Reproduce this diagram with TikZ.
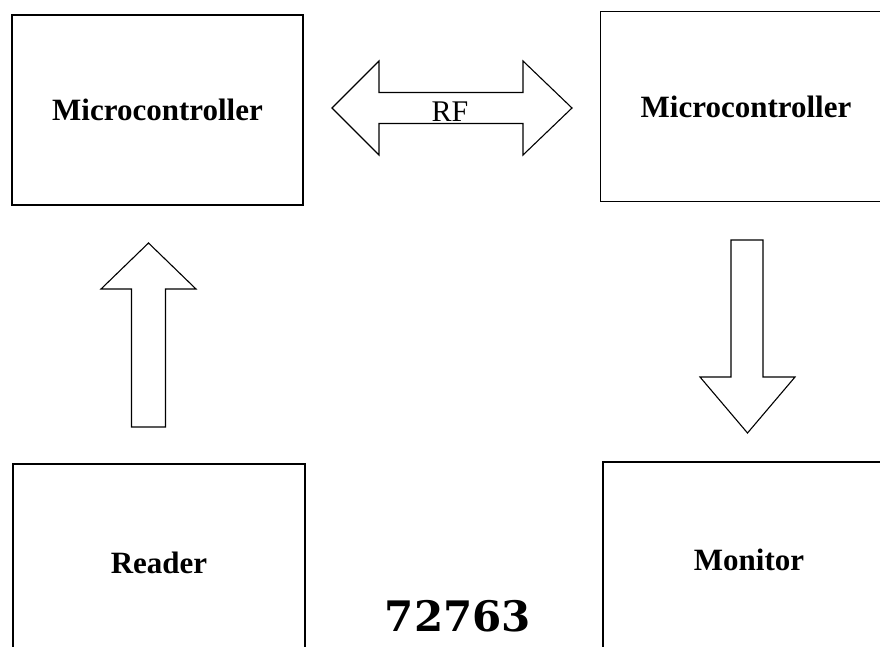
\documentclass[tikz,border=0pt]{standalone}
\usepackage{fontspec}
\setmainfont{Liberation Serif}
\newfontfamily\stampfont{DejaVu Serif}
\usepackage{tikz}
\usetikzlibrary{positioning}

\tikzset{
    block/.style={draw, line width=1.2pt, minimum width=291pt, minimum height=190pt,
        inner sep=0pt, font=\fontsize{31}{37}\selectfont\bfseries},
    blockarrow/.style={draw, line width=1.1pt, line join=miter}
}

\begin{document}
\begin{tikzpicture}[x=1pt, y=-1pt]
    % 0. Page size (same as the scan)
    \useasboundingbox (0,0) rectangle (880,646);
    \clip (0,0) rectangle (880,646);

    % 1. The four blocks (the right and bottom ones run off the page)
    \node[block] (mcuA) at (157.5,110) {Microcontroller};
    \node[block] (mcuB) at (746,106.5) {Microcontroller};
    \node[block, minimum width=292pt, minimum height=198pt] (reader) at (159,563) {Reader};
    \node[block, minimum width=292pt, minimum height=196pt] (monitor) at (749,560) {Monitor};

    % 2. RF link between the two microcontrollers (double block arrow)
    \draw[blockarrow] (332,108) -- (379,61) -- (379,92.5) -- (523,92.5) -- (523,61)
        -- (572,108) -- (523,155) -- (523,123.5) -- (379,123.5) -- (379,155) -- cycle;
    \node[font=\fontsize{30}{34}\selectfont, inner sep=0pt] (rf) at (450,112) {RF};

    % 3. Reader -> Microcontroller (up arrow)
    \draw[blockarrow] (148.5,243) -- (196,289) -- (165.5,289) -- (165.5,427)
        -- (131.5,427) -- (131.5,289) -- (101,289) -- cycle;

    % 4. Microcontroller -> Monitor (down arrow)
    \draw[blockarrow] (731,240) -- (763,240) -- (763,377) -- (795,377)
        -- (747.5,433) -- (700,377) -- (731,377) -- cycle;

    % 5. Stamped number
    \node[font=\stampfont\fontsize{42}{46}\selectfont\bfseries] (stamp) at (458,616) {72763};
\end{tikzpicture}
\end{document}
